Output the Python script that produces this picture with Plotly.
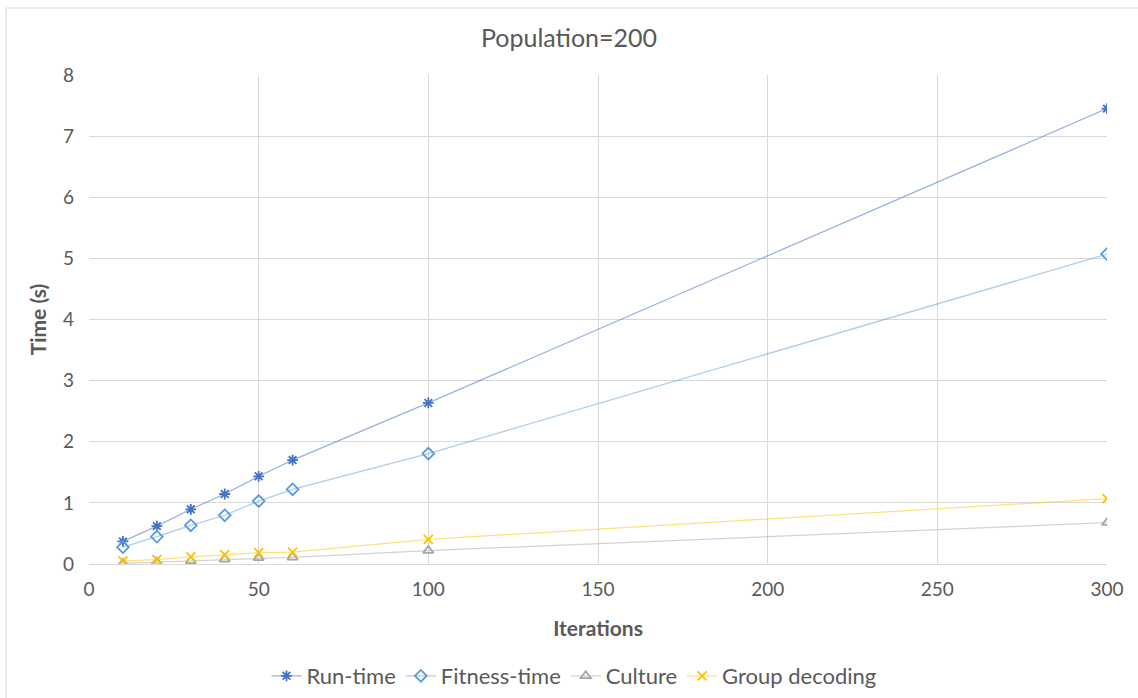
import plotly.graph_objects as go

iterations = [10, 20, 30, 40, 50, 60, 100, 300]
run_time = [0.37, 0.62, 0.895, 1.145, 1.435, 1.70, 2.635, 7.45]
fitness_time = [0.275, 0.447, 0.633, 0.797, 1.03, 1.222, 1.806, 5.07]
culture = [0.01, 0.03, 0.05, 0.077, 0.10, 0.11, 0.22, 0.676]
group_decoding = [0.05, 0.07, 0.115, 0.152, 0.185, 0.196, 0.404, 1.07]

FONT = "Lato"
TXT = "#595959"

series = [
    ("Run-time", run_time, "#4472C4", "rgba(68,114,196,0.55)", "asterisk-open", 9),
    ("Fitness-time", fitness_time, "#5B9BD5", "rgba(91,155,213,0.5)", "diamond-open", 9),
    ("Culture", culture, "#A5A5A5", "rgba(165,165,165,0.5)", "triangle-up-open", 9),
    ("Group decoding", group_decoding, "#FFC000", "rgba(255,192,0,0.5)", "x-thin-open", 9),
]

fig = go.Figure()
for name, ys, mcol, lcol, sym, size in series:
    fig.add_trace(go.Scatter(
        x=iterations, y=ys, name=name, mode="lines+markers",
        line=dict(color=lcol, width=1.25),
        marker=dict(symbol=sym, size=size, color=mcol,
                    line=dict(color=mcol, width=1.8)),
    ))

W, H = 1138, 698
L, R, T, B = 89, 31, 75, 134
pw, ph = W - L - R, H - T - B

def px_x(p):
    return (p - L) / pw

def px_y(p):
    return (H - B - p) / ph

fig.add_shape(type="rect", xref="paper", yref="paper",
              x0=px_x(6), x1=px_x(1145), y0=px_y(705), y1=px_y(8),
              line=dict(color="#D9D9D9", width=1), fillcolor="rgba(0,0,0,0)",
              layer="below")

fig.update_layout(
    width=W, height=H,
    margin=dict(l=L, r=R, t=T, b=B, autoexpand=False),
    paper_bgcolor="white", plot_bgcolor="white",
    font=dict(family=FONT, color=TXT, size=18),
    title=dict(text="Population=200", x=0.5, xanchor="center",
               y=1 - 38 / H, yanchor="middle",
               font=dict(family=FONT, size=25, color=TXT)),
    xaxis=dict(range=[0, 300], tick0=0, dtick=50, showgrid=True,
               gridcolor="#D9D9D9", gridwidth=1, zeroline=False,
               showline=True, linecolor="#D9D9D9", linewidth=1, mirror=False,
               ticks="", ticklabelstandoff=8, tickfont=dict(size=19, color=TXT),
               automargin=False,
               title=dict(text="<b>Iterations</b>", standoff=22,
                          font=dict(size=21, color=TXT))),
    yaxis=dict(range=[0, 8], tick0=0, dtick=1, showgrid=True,
               gridcolor="#D9D9D9", gridwidth=1, zeroline=False,
               showline=False, ticks="", ticklabelstandoff=14, automargin=False,
               tickfont=dict(size=19, color=TXT),
               title=dict(text="<b>Time (s)</b>", standoff=10,
                          font=dict(size=21, color=TXT))),
    legend=dict(orientation="h", xref="container", x=574 / W, xanchor="center",
                yref="container", y=1 - 676 / H, yanchor="middle",
                font=dict(size=22, color=TXT), itemwidth=30,
                traceorder="normal"),
    showlegend=True,
)

fig.write_html("out.html")
